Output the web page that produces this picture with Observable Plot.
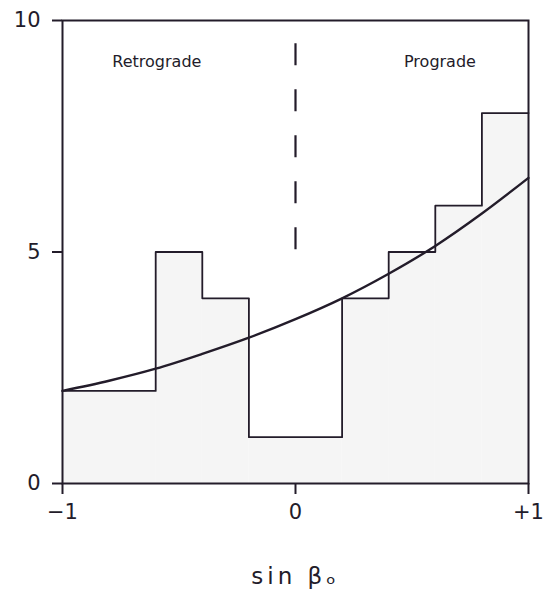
<!DOCTYPE html>
<html><head><meta charset="utf-8">
<script src="https://cdn.jsdelivr.net/npm/d3@7"></script>
<script src="https://cdn.jsdelivr.net/npm/@observablehq/plot@0.6"></script>
<style>body{margin:0;background:#fff}</style>
</head><body><div id="chart"></div>
<script>
const binEdges = [-1, -0.6, -0.4, -0.2, 0.2, 0.4, 0.6, 0.8, 1];
const counts = [2, 5, 4, 1, 4, 5, 6, 8];
const curveX = [-1, -0.8, -0.6, -0.4, -0.2, 0, 0.2, 0.4, 0.6, 0.8, 1];
const curveY = [2.0, 2.22, 2.48, 2.8, 3.15, 3.55, 4.0, 4.53, 5.13, 5.83, 6.6];
const xTicks = [-1, 0, 1];
const xTickLabels = ["\u22121", "0", "+1"];
const yTicks = [0, 5, 10];
const divider = {x: 0, y1: 5, y2: 9.5};
const labels = [{x: -0.595, y: 9.1, text: "Retrograde"}, {x: 0.62, y: 9.1, text: "Prograde"}];

const bins = counts.map((c, i) => ({x1: binEdges[i], x2: binEdges[i + 1], y: c}));
const stepPts = bins.map(b => ({x: b.x1, y: b.y})).concat([{x: binEdges[binEdges.length - 1], y: counts[counts.length - 1]}]);
const curve = curveX.map((x, i) => ({x, y: curveY[i]}));
const ink = "#231c2a";
const font = "DejaVu Sans";

const plot = Plot.plot({
  width: 543, height: 596,
  marginLeft: 62, marginRight: 15, marginTop: 20, marginBottom: 113,
  style: {fontFamily: font, background: "#fff", color: ink},
  x: {domain: [-1, 1]},
  y: {domain: [0, 10]},
  marks: [
    Plot.rect(bins, {x1: "x1", x2: "x2", y1: 0, y2: "y", fill: "#f3f3f3", fillOpacity: 0.8}),
    Plot.frame({stroke: ink, strokeWidth: 2}),
    Plot.line(stepPts, {x: "x", y: "y", curve: "step-after", stroke: ink, strokeWidth: 1.8}),
    Plot.line(curve, {x: "x", y: "y", curve: "catmull-rom", stroke: ink, strokeWidth: 2.4}),
    Plot.ruleX([divider], {x: "x", y1: "y2", y2: "y1", stroke: ink, strokeWidth: 2.2, strokeDasharray: "22,24"}),
    Plot.text(labels, {x: "x", y: "y", text: "text", fontSize: 16, fill: ink, ariaLabel: "region-label"}),
    Plot.axisX(xTicks, {tickSize: 11, tickPadding: 10, fontSize: 21, stroke: ink, strokeWidth: 2, tickFormat: (d) => xTickLabels[xTicks.indexOf(d)], label: "sin \u03b2\u2092", labelAnchor: "center", labelArrow: "none", labelOffset: 100}),
    Plot.axisY(yTicks, {tickSize: 10, tickPadding: 12, fontSize: 21, stroke: ink, strokeWidth: 2, label: null})
  ]
});
document.getElementById("chart").appendChild(plot);
plot.querySelectorAll("g[aria-label='x-axis label'] text").forEach(t => { t.setAttribute("font-size", 23); t.setAttribute("letter-spacing", "4"); });
plot.querySelectorAll("g[aria-label='region-label'] text").forEach(t => { t.setAttribute("font-size", 16); t.setAttribute("letter-spacing", "2.5"); });
</script></body></html>
